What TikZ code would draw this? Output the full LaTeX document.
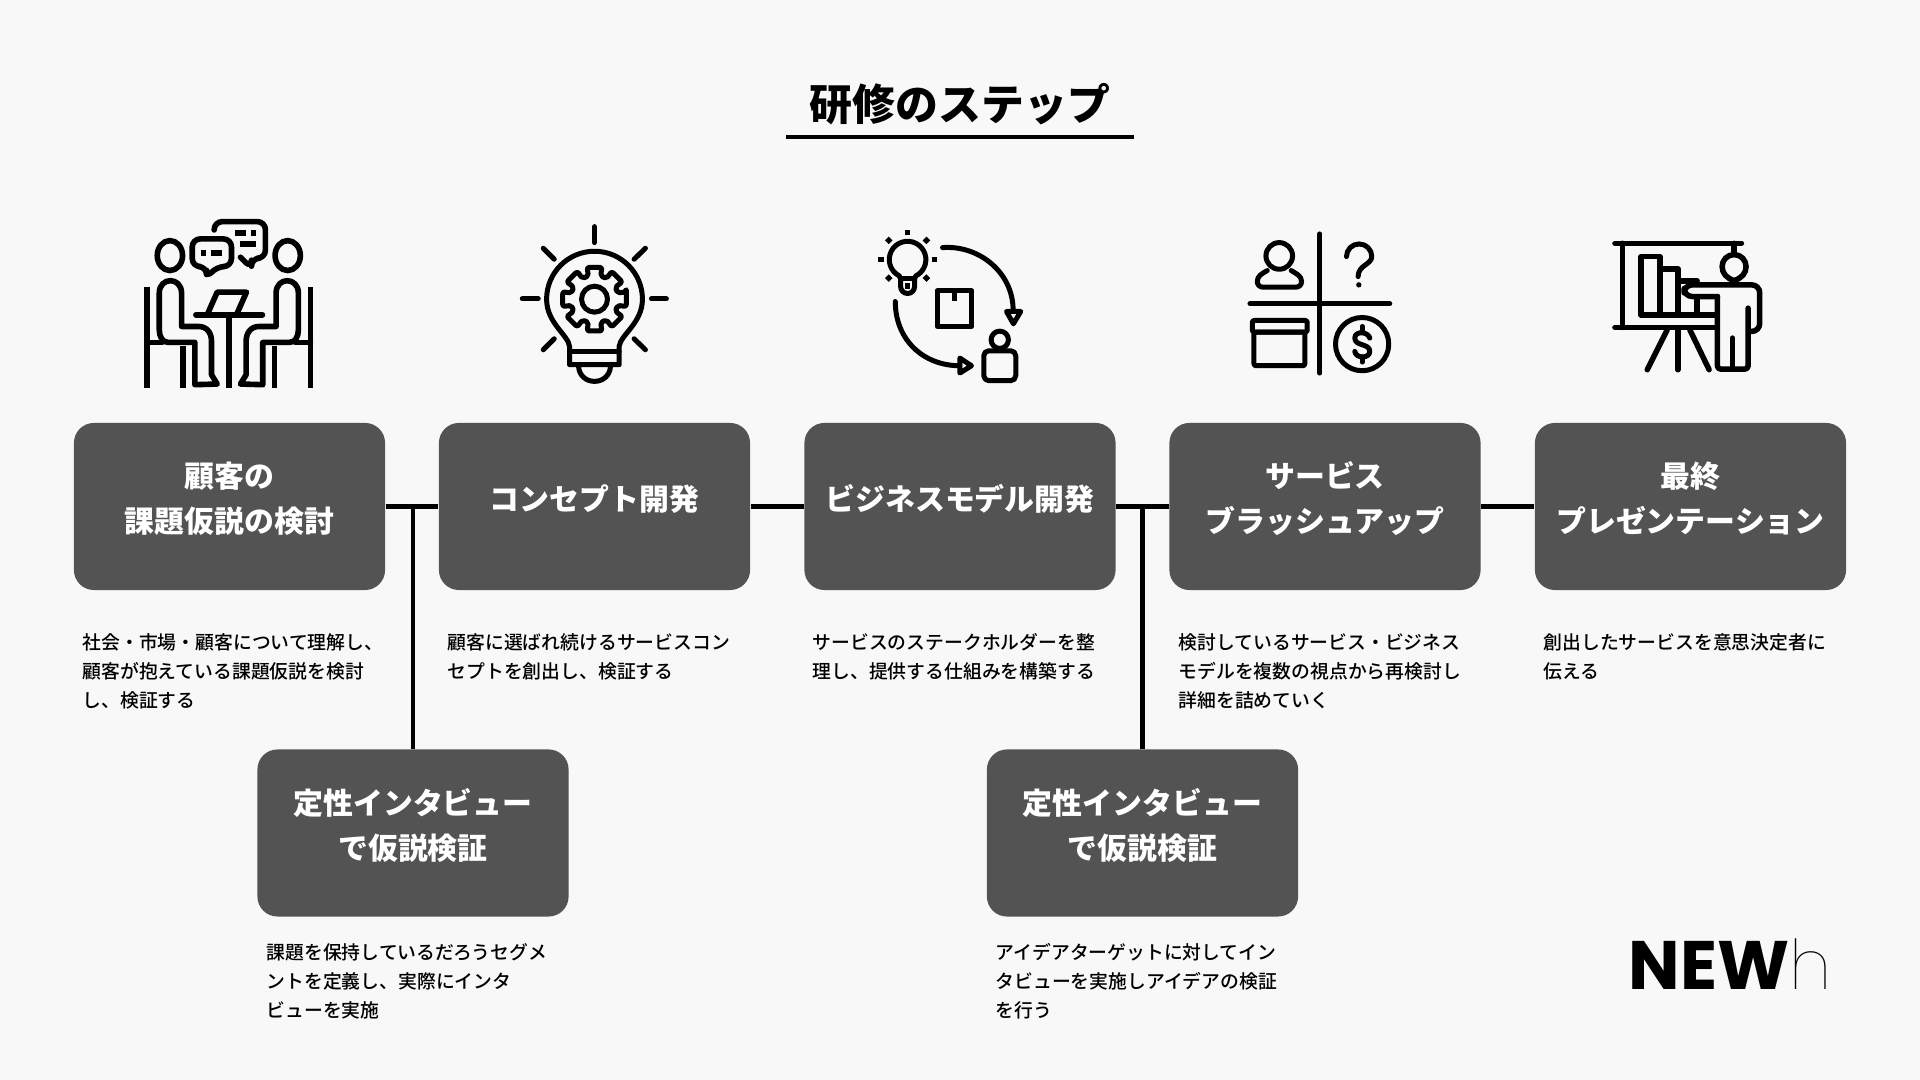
\documentclass[tikz,border=0pt]{standalone}
\usepackage{fontspec}
\setmainfont{Noto Sans CJK JP}
\newfontfamily\logofont{Poppins}
\newfontfamily\logothin{Poppins}[UprightFont=* Thin]
\newfontfamily\descfont{Noto Sans CJK JP Medium}
\usetikzlibrary{positioning, calc}
\definecolor{boxgray}{RGB}{83, 83, 83}
\definecolor{pagegray}{RGB}{248, 248, 248}

\begin{document}
\begin{tikzpicture}[
    x=0.01cm, y=-0.01cm,
    stepbox/.style={rectangle, fill=boxgray, rounded corners=0.2cm, minimum width=3.11cm,
                    minimum height=1.67cm, inner sep=0pt},
    steplabel/.style={text=white, align=center, inner sep=0pt,
                      font=\fontsize{8.5}{12.8}\selectfont\bfseries},
    desc/.style={anchor=north west, align=left, inner sep=0pt, text=black,
                 font=\fontsize{5.35}{8.25}\selectfont\descfont},
    conn/.style={line width=0.042cm, black},
    iconzoom/.style={x=0.003333cm, y=-0.003333cm, line width=0.05cm, black,
                     line cap=round, line join=round}
]
\fill[pagegray] (0,0) rectangle (1920,1080);
\useasboundingbox (0,0) rectangle (1920,1080);

% title
\node[font=\fontsize{12.2}{14}\selectfont\bfseries, inner sep=0pt] (title) at (960,104.5) {研修のステップ};
\coordinate (ruleL) at (786,137);
\coordinate (ruleR) at (1134,137);
\draw[conn] (ruleL) -- (ruleR);

% boxes
\node[stepbox] (b1) at (229.5,506.5) {};
\node[stepbox] (b2) at (594.5,506.5) {};
\node[stepbox] (b3) at (960,506.5) {};
\node[stepbox] (b4) at (1325,506.5) {};
\node[stepbox] (b5) at (1690.5,506.5) {};
\node[stepbox] (q1) at (413,833) {};
\node[stepbox] (q2) at (1142.5,833) {};

\node[steplabel] (l1) at ([yshift=0.075cm]b1) {顧客の\\課題仮説の検討};
\node[steplabel] (l2) at ([yshift=0.075cm]b2) {コンセプト開発};
\node[steplabel] (l3) at ([yshift=0.075cm]b3) {ビジネスモデル開発};
\node[steplabel] (l4) at ([yshift=0.075cm]b4) {サービス\\ブラッシュアップ};
\node[steplabel] (l5) at ([yshift=0.075cm]b5) {最終\\プレゼンテーション};
\node[steplabel] (m1) at ([yshift=0.08cm]q1) {定性インタビュー\\で仮説検証};
\node[steplabel] (m2) at ([yshift=0.08cm]q2) {定性インタビュー\\で仮説検証};

% connectors
\coordinate (j1) at (413,506.5);
\coordinate (j2) at (1142.5,506.5);
\draw[conn] (b1.east) -- (b2.west);
\draw[conn] (b2.east) -- (b3.west);
\draw[conn] (b3.east) -- (b4.west);
\draw[conn] (b4.east) -- (b5.west);
\draw[conn] (j1) -- (q1.north);
\draw[conn] (j2) -- (q2.north);

% descriptions
\node[desc] (d1) at (82,632.5) {社会・市場・顧客について理解し、\\顧客が抱えている課題仮説を検討\\し、検証する};
\node[desc] (d2) at (447,632.5) {顧客に選ばれ続けるサービスコン\\セプトを創出し、検証する};
\node[desc] (d3) at (812,632.5) {サービスのステークホルダーを整\\理し、提供する仕組みを構築する};
\node[desc] (d4) at (1178,632.5) {検討しているサービス・ビジネス\\モデルを複数の視点から再検討し\\詳細を詰めていく};
\node[desc] (d5) at (1543,632.5) {創出したサービスを意思決定者に\\伝える};
\node[desc] (d6) at (266,942.5) {課題を保持しているだろうセグメ\\ントを定義し、実際にインタ\\ビューを実施};
\node[desc] (d7) at (995,942.5) {アイデアターゲットに対してイン\\タビューを実施しアイデアの検証\\を行う};

% logo
\node[font=\fontsize{19.5}{20}\selectfont\logofont\bfseries, anchor=base west, inner sep=0pt] (logo) at (1628,990) {NEW};
\node[font=\fontsize{19.5}{20}\selectfont\logothin, anchor=base west, inner sep=0pt] (logoh) at (1789,990) {h};

% icon: meeting
\begin{scope}[shift={(120,200)}, iconzoom, line width=0.056cm]
\draw[line cap=butt] (327,345) -- (327,565);
\draw (228,345) -- (428,345);
\draw (262,345) -- (292,277) -- (380,277) -- (350,345);
\foreach \mir in {1,-1} {
  \begin{scope}[shift={(327,0)}, xscale=\mir]
  \draw (-177,167) circle [x radius=38, y radius=45];
  \draw[line cap=butt] (-245,262) -- (-245,565);
  \draw (-245,428) -- (-200,428);
  \draw[line cap=butt] (-137,440) -- (-137,565);
  \draw (-102,555) -- (-102,428) -- (-182,428) .. controls (-200,428) and (-209,410) .. (-209,390) -- (-209,280)
        .. controls (-209,230) and (-142,230) .. (-142,280) -- (-142,380) -- (-92,380)
        .. controls (-65,380) and (-52,400) .. (-52,425) -- (-52,525) -- (-35,553) -- (-102,555);
  \end{scope}
}
\draw[rounded corners=0.08cm] (217,117) -- (335,117) -- (335,200) -- (290,200) -- (260,235) -- (260,200) -- (217,200) -- cycle;
\draw[rounded corners=0.08cm] (283,90) -- (283,65) -- (437,65) -- (437,175) -- (395,175) -- (395,205) -- (362,172);
\draw[line cap=butt] (243,160) -- (258,160);
\draw[line cap=butt] (272,160) -- (307,160);
\draw[line cap=butt] (345,100) -- (378,100);
\draw[line cap=butt] (395,100) -- (410,100);
\draw[line cap=butt] (362,133) -- (410,133);
\end{scope}

% icon: bulb with gear
\begin{scope}[shift={(500,210)}, iconzoom]
\draw (209,465) -- (209,410) .. controls (205,375) and (140,340) .. (140,268)
      arc (180:360:144) .. controls (428,340) and (362,375) .. (358,410) -- (358,465) -- cycle;
\draw (209,425) -- (358,425);
\draw (236,470) .. controls (240,530) and (328,530) .. (332,470);
\draw (284,50) -- (284,98);
\draw (130,115) -- (163,148);
\draw (437,115) -- (403,148);
\draw (67,267) -- (115,267);
\draw (455,267) -- (500,267);
\draw (130,420) -- (163,387);
\draw (437,420) -- (403,387);
\begin{scope}[shift={(284,268)}]
\draw (0,0) circle [radius=39];
\draw[rounded corners=0.02cm] (-13:98)
  \foreach \a in {0,45,...,315} { -- (\a-13:98) -- (\a+13:98) -- (\a+15:72) -- (\a+30:72) } -- cycle;
\end{scope}
\end{scope}

% icon: idea, product, user
\begin{scope}[shift={(860,210)}, iconzoom]
\draw (118,198) arc (117:423:55) -- (164,207) -- (164,230) arc (0:180:21) -- (122,207) -- cycle;
\draw (122,207) -- (164,207);
\foreach \a in {0,45,...,315} {
  \draw[line cap=butt, line width=0.053cm] ($(143,148)+(\a:72)$) -- ($(143,148)+(\a:88)$);
}
\draw (248,113) .. controls (360,105) and (460,190) .. (460,300);
\draw (440,305) -- (483,305) -- (461,342) -- cycle;
\draw (106,275) .. controls (106,390) and (190,468) .. (300,468);
\draw (300,445) -- (300,490) -- (335,468) -- cycle;
\draw (232,243) rectangle (336,350);
\draw[line cap=butt, line width=0.055cm] (284,243) -- (284,273);
\draw (420,390) circle [radius=26];
\draw[rounded corners=0.05cm] (372,423) rectangle (468,513);
\end{scope}

% icon: four quadrants
\begin{scope}[shift={(1230,210)}, iconzoom]
\draw (270,72) -- (270,490);
\draw (60,282) -- (480,282);
\draw (148,138) circle [radius=40];
\draw (112,182) .. controls (95,192) and (82,198) .. (82,215) .. controls (82,226) and (90,232) .. (100,232)
      -- (197,232) .. controls (207,232) and (215,226) .. (215,215) .. controls (215,198) and (200,192) .. (184,182);
\draw (350,140) arc (180:360:38) .. controls (425,165) and (385,165) .. (385,200);
\fill (387,225) circle [radius=8];
\draw[rounded corners=0.02cm] (67,332) rectangle (232,367);
\draw[rounded corners=0.02cm] (72,367) rectangle (225,468);
\draw (397,403) circle [radius=80];
\draw (420,385) .. controls (415,365) and (375,362) .. (375,385) .. controls (375,410) and (420,400) .. (420,425)
      .. controls (420,447) and (378,447) .. (375,425);
\draw (397,350) -- (397,365);
\draw (397,442) -- (397,457);
\end{scope}

% icon: presenter
\begin{scope}[shift={(1590,210)}, iconzoom, line width=0.055cm]
\draw (75,100) -- (455,100);
\draw (75,353) -- (375,353);
\draw (97,100) -- (97,353);
\draw (433,100) -- (433,128);
\draw (232,360) -- (172,480);
\draw (264,360) -- (264,480);
\draw (300,360) -- (358,480);
\draw (153,315) -- (153,140) -- (210,140) -- (210,315);
\draw (210,177) -- (265,177) -- (265,315);
\draw (265,213) -- (322,213);
\draw (322,262) -- (322,315);
\draw (153,315) -- (380,315);
\draw (433,212) .. controls (410,205) and (397,190) .. (397,170) arc (180:360:36) .. controls (469,190) and (456,205) .. (433,212);
\draw[rounded corners=0.08cm] (383,260) -- (283,260) -- (283,225) -- (510,225) -- (510,365) -- (480,365);
\draw[rounded corners=0.03cm] (383,260) -- (383,478) -- (475,478) -- (475,295);
\draw (428,385) -- (428,475);
\end{scope}
\end{tikzpicture}
\end{document}
